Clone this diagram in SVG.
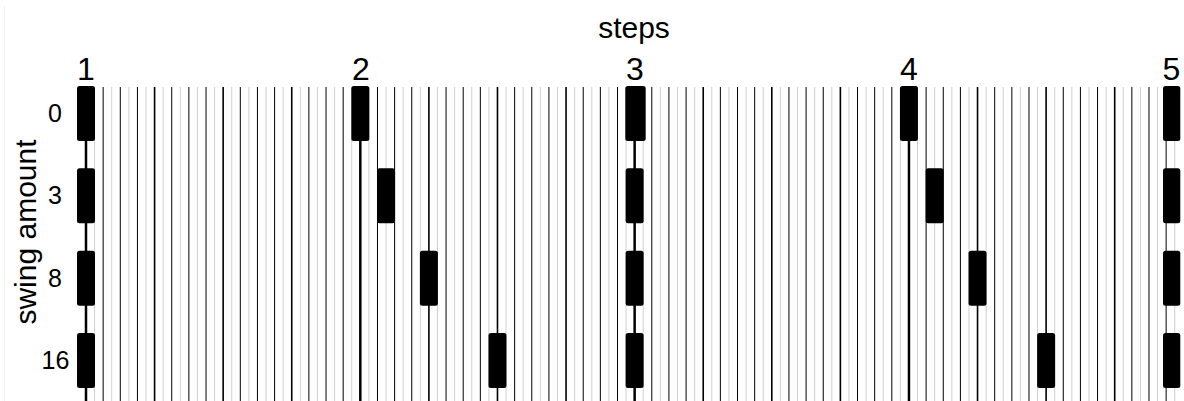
<svg xmlns="http://www.w3.org/2000/svg" width="1184" height="401" viewBox="0 0 1184 401">
<style>
text{font-family:"Liberation Sans",Arial,sans-serif;fill:#000}
.title{font-size:30px}
.tick{font-size:32px;text-anchor:middle}
.row{font-size:25px;text-anchor:middle}
.g path{fill:none}
.odd{stroke:#cfcfcf;stroke-width:1}
.even{stroke:#000;stroke-width:1}
.m8{stroke:#000;stroke-width:1.6}
.step{stroke:#000;stroke-width:2.5}
.blk{fill:#000}
</style>
<rect width="1184" height="401" fill="#fff"/>
<line x1="4.5" y1="6" x2="4.5" y2="401" stroke="#f0f0f0" stroke-width="1"/>
<g id="connectors" class="g">
<path class="odd" d="M94.57 87V401M111.72 87V401M128.86 87V401M146.01 87V401M163.15 87V401M180.30 87V401M197.44 87V401M214.59 87V401M231.73 87V401M248.88 87V401M266.02 87V401M283.17 87V401M300.31 87V401M317.46 87V401M334.60 87V401M351.75 87V401M368.89 87V401M386.04 87V401M403.18 87V401M420.33 87V401M437.47 87V401M454.62 87V401M471.76 87V401M488.91 87V401M506.05 87V401M523.20 87V401M540.34 87V401M557.49 87V401M574.63 87V401M591.78 87V401M608.92 87V401M626.07 87V401M643.21 87V401M660.36 87V401M677.50 87V401M694.65 87V401M711.79 87V401M728.94 87V401M746.08 87V401M763.23 87V401M780.37 87V401M797.52 87V401M814.66 87V401M831.81 87V401M848.95 87V401M866.10 87V401M883.24 87V401M900.39 87V401M917.53 87V401M934.68 87V401M951.82 87V401M968.97 87V401M986.11 87V401M1003.26 87V401M1020.40 87V401M1037.55 87V401M1054.69 87V401M1071.84 87V401M1088.98 87V401M1106.13 87V401M1123.27 87V401M1140.42 87V401M1157.56 87V401M1174.71 87V401"/>
<path class="even" d="M103.15 87V401M120.29 87V401M137.44 87V401M171.73 87V401M188.87 87V401M206.02 87V401M240.31 87V401M257.45 87V401M274.60 87V401M308.89 87V401M326.03 87V401M343.18 87V401M377.47 87V401M394.61 87V401M411.76 87V401M446.05 87V401M463.19 87V401M480.34 87V401M514.63 87V401M531.77 87V401M548.92 87V401M583.21 87V401M600.35 87V401M617.50 87V401M651.79 87V401M668.93 87V401M686.08 87V401M720.37 87V401M737.51 87V401M754.66 87V401M788.95 87V401M806.09 87V401M823.24 87V401M857.53 87V401M874.67 87V401M891.82 87V401M926.11 87V401M943.25 87V401M960.40 87V401M994.69 87V401M1011.83 87V401M1028.98 87V401M1063.27 87V401M1080.41 87V401M1097.56 87V401M1131.85 87V401M1148.99 87V401M1166.14 87V401"/>
<path class="m8" d="M154.58 87V401M223.16 87V401M291.74 87V401M428.90 87V401M497.48 87V401M566.06 87V401M703.22 87V401M771.80 87V401M840.38 87V401M977.54 87V401M1046.12 87V401M1114.70 87V401"/>
<path class="step" d="M86 87V401M360.32 87V401M634.64 87V401M908.96 87V401"/>
</g>
<g id="row-0">
<rect class="blk" x="77" y="86" width="18" height="55" rx="2.5"/>
<rect class="blk" x="351.32" y="86" width="18" height="55" rx="2.5"/>
<rect class="blk" x="625.3" y="86" width="20.4" height="55" rx="2.5"/>
<rect class="blk" x="899.96" y="86" width="18" height="55" rx="2.5"/>
<rect class="blk" x="1163" y="86" width="17.3" height="55" rx="2.5"/>
</g>
<g id="row-3">
<rect class="blk" x="77" y="168.3" width="18" height="55" rx="2.5"/>
<rect class="blk" x="377.04" y="168.3" width="18" height="55" rx="2.5"/>
<rect class="blk" x="625.64" y="168.3" width="18" height="55" rx="2.5"/>
<rect class="blk" x="925.68" y="168.3" width="18" height="55" rx="2.5"/>
<rect class="blk" x="1163" y="168.3" width="17.3" height="55" rx="2.5"/>
</g>
<g id="row-8">
<rect class="blk" x="77" y="250.7" width="18" height="55" rx="2.5"/>
<rect class="blk" x="419.9" y="250.7" width="18" height="55" rx="2.5"/>
<rect class="blk" x="625.64" y="250.7" width="18" height="55" rx="2.5"/>
<rect class="blk" x="968.54" y="250.7" width="18" height="55" rx="2.5"/>
<rect class="blk" x="1163" y="250.7" width="17.3" height="55" rx="2.5"/>
</g>
<g id="row-16">
<rect class="blk" x="77" y="333" width="18" height="55" rx="2.5"/>
<rect class="blk" x="488.48" y="333" width="18" height="55" rx="2.5"/>
<rect class="blk" x="625.64" y="333" width="18" height="55" rx="2.5"/>
<rect class="blk" x="1037.12" y="333" width="18" height="55" rx="2.5"/>
<rect class="blk" x="1163" y="333" width="17.3" height="55" rx="2.5"/>
</g>
<g id="labels">
<text class="title" x="634" y="38" text-anchor="middle">steps</text>
<text class="tick" x="86" y="80">1</text>
<text class="tick" x="361" y="80">2</text>
<text class="tick" x="635" y="80">3</text>
<text class="tick" x="909" y="80">4</text>
<text class="tick" x="1171.5" y="80">5</text>
<text class="title" transform="translate(36 232) rotate(-90)" text-anchor="middle">swing amount</text>
<text class="row" x="55" y="122">0</text>
<text class="row" x="55" y="204.3">3</text>
<text class="row" x="55" y="286.7">8</text>
<text class="row" x="55.5" y="369">16</text>
</g>
</svg>
